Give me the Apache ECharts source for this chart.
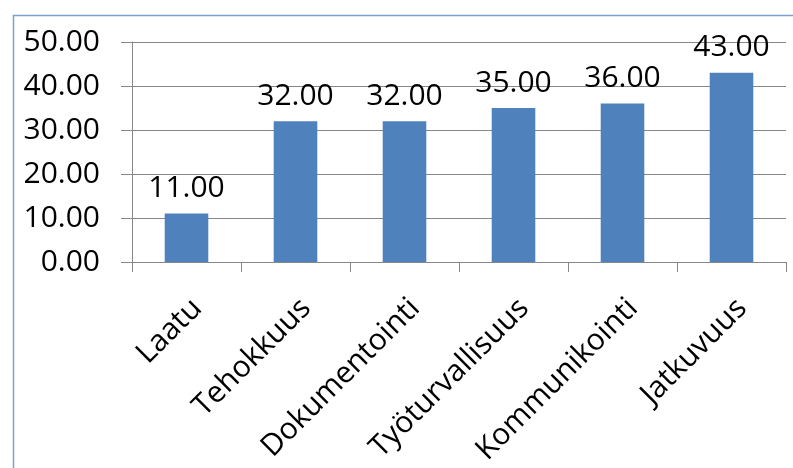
<!DOCTYPE html>
<html>
<head>
<meta charset="utf-8">
<script src="https://cdn.jsdelivr.net/npm/echarts@6/dist/echarts.min.js"></script>
<style>
html,body{margin:0;padding:0;background:#fff;}
#c{width:793px;height:468px;}
</style>
</head>
<body>
<div id="c"></div>
<script>
const categories = ['Laatu', 'Tehokkuus', 'Dokumentointi', 'Työturvallisuus', 'Kommunikointi', 'Jatkuvuus'];
const values = [11, 32, 32, 35, 36, 43];
const yMin = 0, yMax = 50, yStep = 10;

const FONT = 'Open Sans';
const chart = echarts.init(document.getElementById('c'), null, {renderer: 'canvas'});
chart.setOption({
  animation: false,
  backgroundColor: '#ffffff',
  graphic: [{
    type: 'rect', left: 11, top: 13, silent: true,
    shape: {width: 800, height: 500},
    style: {fill: 'none', stroke: '#7f9fce', lineWidth: 1.5}
  }],
  grid: {left: 132, top: 42, right: 7, bottom: 206, containLabel: false},
  xAxis: {
    type: 'category',
    data: categories,
    boundaryGap: true,
    axisLine: {show: true, lineStyle: {color: '#878787', width: 1}},
    axisTick: {show: true, length: 10, alignWithLabel: false, lineStyle: {color: '#878787'}},
    axisLabel: {
      rotate: 45, interval: 0, margin: 31, verticalAlign: 'top',
      color: '#000', fontFamily: FONT, fontSize: 30
    },
    splitLine: {show: false}
  },
  yAxis: {
    type: 'value', min: yMin, max: yMax, interval: yStep,
    axisLine: {show: true, lineStyle: {color: '#878787', width: 1}},
    axisTick: {show: true, length: 11, lineStyle: {color: '#878787'}},
    axisLabel: {
      margin: 32, color: '#000', fontFamily: FONT, fontSize: 30,
      formatter: v => v.toFixed(2)
    },
    splitLine: {show: true, lineStyle: {color: '#878787', width: 1}}
  },
  series: [{
    type: 'bar',
    data: values,
    barWidth: '40%',
    itemStyle: {color: '#4f81bd'},
    label: {
      show: true, position: 'top', distance: 10,
      color: '#000', fontFamily: FONT, fontSize: 30,
      formatter: p => p.value.toFixed(2)
    }
  }]
});
</script>
</body>
</html>
